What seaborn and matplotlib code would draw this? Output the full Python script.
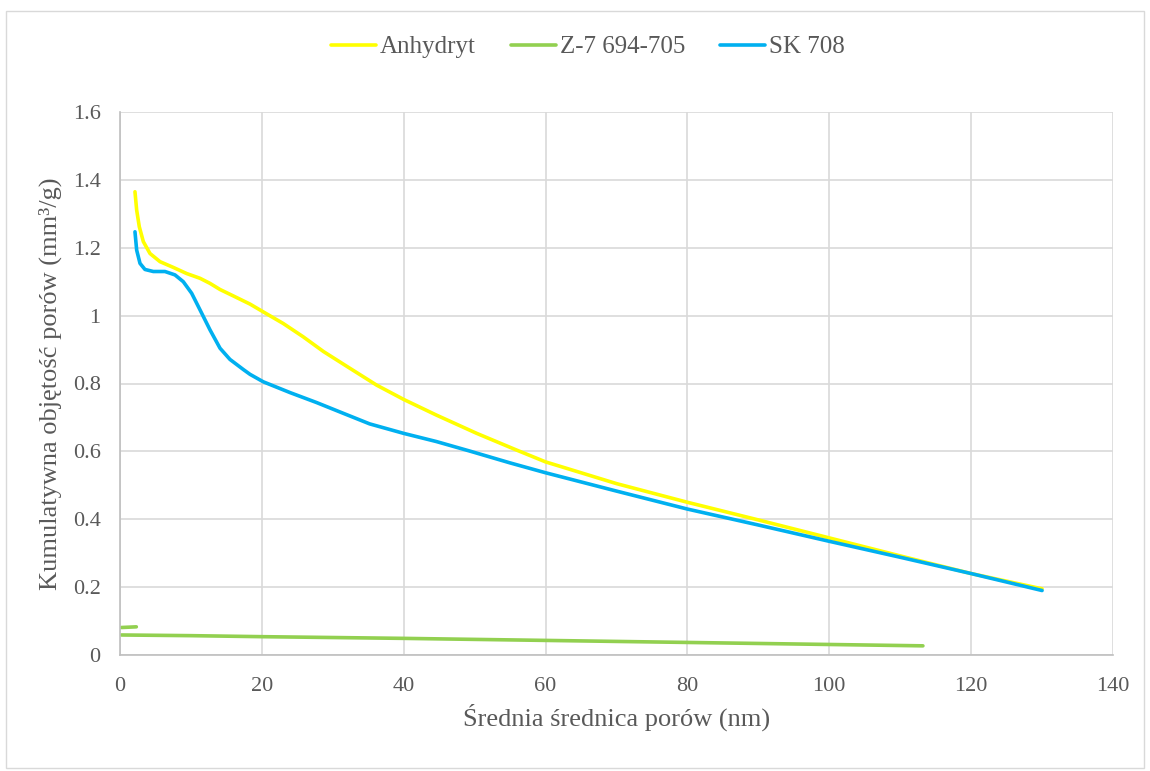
import numpy as np
import pandas as pd
import matplotlib
matplotlib.use("Agg")
import matplotlib.pyplot as plt
import seaborn as sns
from matplotlib.patches import Rectangle
from matplotlib.ticker import FuncFormatter

# ── Data ────────────────────────────────────────────────────
anhydryt_x = [2.11, 2.35, 2.72, 3.29, 4.23, 5.64, 7.52, 9.4, 11.28, 12.69, 14.1, 15.98,
              18.33, 20.2, 23.0, 25.8, 28.7, 32.4, 36.2, 40.0, 44.6, 50.3, 55.9, 60.0,
              70.0, 80.0, 90.0, 100.0, 110.0, 120.0, 130.0]
anhydryt_y = [1.365, 1.311, 1.262, 1.218, 1.183, 1.159, 1.142, 1.124, 1.110, 1.095, 1.077, 1.058,
              1.034, 1.011, 0.977, 0.938, 0.894, 0.845, 0.795, 0.753, 0.707, 0.653, 0.604, 0.569,
              0.505, 0.45, 0.398, 0.345, 0.292, 0.24, 0.195]

sk708_x = [2.11, 2.35, 2.82, 3.52, 4.7, 6.34, 7.75, 8.92, 10.1, 11.28, 12.69, 14.1, 15.5,
           17.4, 18.33, 20.2, 24.0, 27.7, 31.5, 35.2, 40.0, 44.6, 49.3, 55.0, 60.0,
           70.0, 80.0, 90.0, 100.0, 110.0, 120.0, 130.0]
sk708_y = [1.247, 1.193, 1.154, 1.136, 1.13, 1.13, 1.12, 1.10, 1.066, 1.017, 0.958, 0.904, 0.871,
           0.841, 0.827, 0.805, 0.773, 0.744, 0.712, 0.681, 0.653, 0.629, 0.601, 0.566, 0.537,
           0.483, 0.43, 0.383, 0.335, 0.288, 0.24, 0.19]

z7_x = [0.2, 10.0, 20.0, 40.0, 60.0, 80.0, 100.0, 113.2]
z7_y = [0.059, 0.057, 0.054, 0.049, 0.043, 0.037, 0.031, 0.027]
z7_tail_x = [0.2, 2.3]
z7_tail_y = [0.081, 0.083]

x_ticks = [0, 20, 40, 60, 80, 100, 120, 140]
y_ticks = [0, 0.2, 0.4, 0.6, 0.8, 1.0, 1.2, 1.4, 1.6]

series = {
    "Anhydryt": (anhydryt_x, anhydryt_y, "#FFFF00"),
    "Z-7 694-705": (z7_x, z7_y, "#92D050"),
    "SK 708": (sk708_x, sk708_y, "#00B0F0"),
}

# ── Style ───────────────────────────────────────────────────
sns.set_theme(style="white")
plt.rcParams['font.family'] = ['Liberation Serif', 'DejaVu Serif']
text_col = "#595959"

fig = plt.figure(figsize=(11.5, 7.71), dpi=100)
ax = fig.add_axes([120 / 1150, 1 - 655 / 771, (1113 - 120) / 1150, (655 - 112) / 771])

for name, (xs, ys, col) in series.items():
    df = pd.DataFrame({"x": xs, "y": ys})
    sns.lineplot(data=df, x="x", y="y", ax=ax, color=col, linewidth=2.6,
                 estimator=None, sort=False, label=name, solid_capstyle="round",
                 solid_joinstyle="round")

# short separate green piece near the origin
sns.lineplot(x=z7_tail_x, y=z7_tail_y, ax=ax, color="#92D050", linewidth=2.6,
             estimator=None, sort=False, legend=False, solid_capstyle="round")

ax.set_xlim(0, 140)
ax.set_ylim(0, 1.6)
ax.set_xticks(x_ticks)
ax.set_yticks(y_ticks)
ax.yaxis.set_major_formatter(FuncFormatter(lambda v, p: f"{v:g}"))
ax.grid(True, color="#d9d9d9", linewidth=1.2)
ax.set_axisbelow(True)
for s in ["top", "right"]:
    ax.spines[s].set_visible(False)
for s in ["left", "bottom"]:
    ax.spines[s].set_color("#bfbfbf")
    ax.spines[s].set_linewidth(1.2)
ax.tick_params(axis="both", length=0, labelsize=16, colors=text_col)
ax.tick_params(axis="x", pad=16)
ax.tick_params(axis="y", pad=14)

ax.set_xlabel("Średnia średnica porów (nm)", fontsize=19, color=text_col, labelpad=5)
ax.set_ylabel("Kumulatywna objętość porów (mm³/g)", fontsize=19, color=text_col, labelpad=8)

handles, labels = ax.get_legend_handles_labels()
ax.get_legend().remove()
fig.legend(handles, labels, loc="center", bbox_to_anchor=(588 / 1150, 1 - 47 / 771), ncol=3,
           frameon=False, fontsize=18, handlelength=1.8, columnspacing=1.4,
           handletextpad=0.15, labelcolor=text_col)

# chart border
fig.patches.append(Rectangle((6 / 1150, 0.004), (1144 - 6) / 1150, 1 - 0.004 - 10.7 / 771,
                             transform=fig.transFigure, fill=False,
                             edgecolor="#d9d9d9", linewidth=1))

fig.savefig("out.png", dpi=100)
